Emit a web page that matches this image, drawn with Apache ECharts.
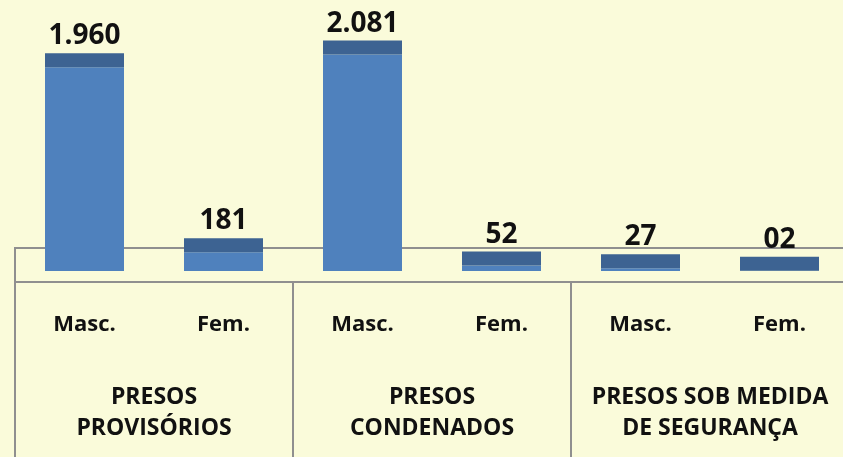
<!DOCTYPE html>
<html lang="pt-br">

<head>
    <meta charset="UTF-8">
    <title>Presos por sexo</title>
    <script src="https://cdn.jsdelivr.net/npm/echarts@6/dist/echarts.min.js"></script>
    <style>
        body {
            margin: 0;
        }

        #root {
            width: 843px;
            height: 457px;
        }
    </style>
</head>

<body>

    <div id="root"></div>
    <script>

        // dados
        var categories = ['Masc.', 'Fem.', 'Masc.', 'Fem.', 'Masc.', 'Fem.'];
        var groups = ['PRESOS\nPROVISÓRIOS', 'PRESOS\nCONDENADOS', 'PRESOS SOB MEDIDA\nDE SEGURANÇA'];
        var values = [1960, 181, 2081, 52, 27, 2];
        var valueLabels = ['1.960', '181', '2.081', '52', '27', '02'];

        var barW = 79;
        var capH = 14;
        var lineColor = '#8f8f8f';
        var textFont = 'Open Sans';

        var mychart = echarts.init(document.getElementById('root'));

        mychart.setOption({
            backgroundColor: '#fafbda',
            animation: false,
            grid: {
                left: 15,
                right: -6,
                top: 11,
                bottom: 186,
                outerBoundsMode: 'none'
            },
            xAxis: [{
                type: 'category',
                data: categories,
                position: 'bottom',
                offset: 11,
                axisLine: { show: false },
                axisTick: { show: false },
                axisLabel: {
                    interval: 0,
                    margin: 32,
                    color: '#111',
                    fontFamily: textFont,
                    fontWeight: 'bold',
                    fontSize: 22
                }
            }, {
                type: 'category',
                data: groups,
                position: 'bottom',
                offset: 11,
                axisLine: { show: true, lineStyle: { color: lineColor, width: 2 } },
                axisTick: { show: true, interval: 0, length: 176, lineStyle: { color: lineColor, width: 2 } },
                axisLabel: {
                    interval: 0,
                    margin: 100,
                    color: '#111',
                    fontFamily: textFont,
                    fontWeight: 'bold',
                    fontSize: 23,
                    lineHeight: 31
                }
            }],
            yAxis: {
                type: 'value',
                min: 0,
                max: 2500,
                show: false
            },
            graphic: [{
                // fundo 3D (chão)
                type: 'polyline',
                z: 0,
                shape: { points: [[843, 248], [15, 248], [15, 282]] },
                style: { stroke: lineColor, lineWidth: 2, fill: null }
            }],
            series: [{
                type: 'bar',
                xAxisIndex: 0,
                data: values,
                barWidth: barW,
                z: 2,
                itemStyle: { color: '#4f81bd' },
                label: {
                    show: true,
                    position: 'top',
                    distance: capH + 3,
                    color: '#111',
                    fontFamily: textFont,
                    fontWeight: 'bold',
                    fontSize: 28,
                    formatter: function (p) {
                        return valueLabels[p.dataIndex];
                    }
                }
            }, {
                // tampa escura
                type: 'custom',
                xAxisIndex: 0,
                z: 3,
                data: values.map(function (v, i) { return [i, v]; }),
                renderItem: function (params, api) {
                    var p = api.coord([api.value(0), api.value(1)]);
                    return {
                        type: 'rect',
                        shape: { x: p[0] - barW / 2, y: p[1] - capH, width: barW, height: capH },
                        style: { fill: '#3d6392' }
                    };
                }
            }]
        });

    </script>

</body>

</html>
